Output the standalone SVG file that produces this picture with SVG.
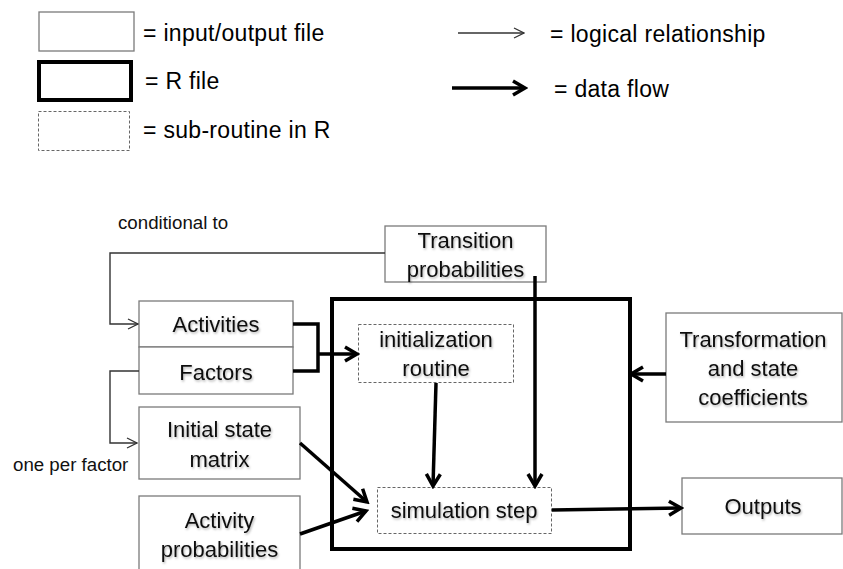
<svg xmlns="http://www.w3.org/2000/svg" width="843" height="569" viewBox="0 0 843 569">
<style>
  .io { fill: #fff; stroke: #7a7a7a; stroke-width: 1.3; }
  .rf { fill: none; stroke: #000; stroke-width: 4; }
  .sub { fill: #fff; stroke: #666; stroke-width: 1; stroke-dasharray: 3 2; }
  .leg { font-family: "Liberation Sans", Arial, sans-serif; font-size: 23px; letter-spacing: 0.3px; fill: #000; }
  .note { font-family: "Liberation Sans", Arial, sans-serif; font-size: 18.7px; fill: #111; }
  .lbl { font-family: "Liberation Sans", Arial, sans-serif; font-size: 22px; fill: #111; text-anchor: middle; filter: url(#sh); }
  .thin { fill: none; stroke: #333; stroke-width: 1.4; }
  .thick { fill: none; stroke: #000; stroke-width: 3.5; }
</style>
<defs>
  <filter id="sh" x="-10%" y="-20%" width="130%" height="160%">
    <feDropShadow dx="1" dy="1.5" stdDeviation="1.2" flood-color="#000" flood-opacity="0.3"/>
  </filter>
  <marker id="ah-thin" viewBox="0 0 12 12" markerWidth="12" markerHeight="12" refX="11" refY="6" orient="auto" markerUnits="userSpaceOnUse">
    <path d="M1,1 L11,6 L1,11" fill="none" stroke="#333" stroke-width="1.3"/>
  </marker>
  <marker id="ah-thick" viewBox="0 0 18 18" markerWidth="18" markerHeight="18" refX="15" refY="9" orient="auto" markerUnits="userSpaceOnUse">
    <path d="M3,2 L15,9 L3,16" fill="none" stroke="#000" stroke-width="3.5"/>
  </marker>
</defs>
<rect width="843" height="569" fill="#fff"/>

<g id="legend">
  <rect class="io" x="39" y="12" width="95" height="39"/>
  <text class="leg" x="143" y="41">= input/output file</text>
  <rect class="rf" x="39" y="62" width="92" height="38"/>
  <text class="leg" x="145" y="89">= R file</text>
  <rect class="sub" x="38.5" y="111.5" width="91" height="39"/>
  <text class="leg" x="143" y="138">= sub-routine in R</text>
  <line class="thin" x1="458" y1="33" x2="524" y2="33" marker-end="url(#ah-thin)"/>
  <text class="leg" x="550" y="42">= logical relationship</text>
  <line class="thick" x1="452" y1="88" x2="525" y2="88" marker-end="url(#ah-thick)"/>
  <text class="leg" x="554" y="97">= data flow</text>
</g>

<g id="rfile">
  <rect class="rf" x="332" y="299" width="298" height="250"/>
</g>

<g id="transition">
  <rect class="io" x="385" y="226" width="161" height="56"/>
  <text class="lbl" x="465.5" y="248">Transition</text>
  <text class="lbl" x="465.5" y="277">probabilities</text>
</g>

<g id="activities">
  <rect class="io" x="139" y="301" width="154" height="46"/>
  <text class="lbl" x="216" y="332">Activities</text>
</g>

<g id="factors">
  <rect class="io" x="139" y="347" width="154" height="47"/>
  <text class="lbl" x="216" y="380">Factors</text>
</g>

<g id="initial-state">
  <rect class="io" x="139" y="407" width="161" height="72"/>
  <text class="lbl" x="219.5" y="437">Initial state</text>
  <text class="lbl" x="219.5" y="467">matrix</text>
</g>

<g id="activity-prob">
  <rect class="io" x="139" y="496" width="161" height="80"/>
  <text class="lbl" x="219.5" y="528">Activity</text>
  <text class="lbl" x="219.5" y="557">probabilities</text>
</g>

<g id="init-routine">
  <rect class="sub" x="358.5" y="324.5" width="155" height="58"/>
  <text class="lbl" x="436" y="347">initialization</text>
  <text class="lbl" x="436" y="376">routine</text>
</g>

<g id="sim-step">
  <rect class="sub" x="377.5" y="487.5" width="174" height="46"/>
  <text class="lbl" x="464" y="518">simulation step</text>
</g>

<g id="transformation">
  <rect class="io" x="666" y="313" width="176" height="109"/>
  <text class="lbl" x="753" y="347">Transformation</text>
  <text class="lbl" x="753" y="376">and state</text>
  <text class="lbl" x="753" y="405">coefficients</text>
</g>

<g id="outputs">
  <rect class="io" x="682" y="478" width="160" height="56"/>
  <text class="lbl" x="763" y="514">Outputs</text>
</g>

<g id="notes">
  <text class="note" x="118" y="229">conditional to</text>
  <text class="note" x="13" y="471">one per factor</text>
</g>

<g id="connectors">
  <polyline class="thin" points="385,253 110,253 110,324 138,324" marker-end="url(#ah-thin)"/>
  <polyline class="thin" points="139,371 110,371 110,443 137,443" marker-end="url(#ah-thin)"/>
  <path class="thick" d="M293,324 H318 V371 H293"/>
  <line class="thick" x1="318" y1="354" x2="357" y2="354" marker-end="url(#ah-thick)"/>
  <line class="thick" x1="535" y1="276" x2="535" y2="486" marker-end="url(#ah-thick)"/>
  <line class="thick" x1="436" y1="383" x2="433" y2="486" marker-end="url(#ah-thick)"/>
  <line class="thick" x1="300" y1="443" x2="367" y2="502" marker-end="url(#ah-thick)"/>
  <line class="thick" x1="300" y1="534" x2="366" y2="511" marker-end="url(#ah-thick)"/>
  <line class="thick" x1="552" y1="510" x2="681" y2="508" marker-end="url(#ah-thick)"/>
  <line class="thick" x1="666" y1="374" x2="631" y2="374" marker-end="url(#ah-thick)"/>
</g>
</svg>
